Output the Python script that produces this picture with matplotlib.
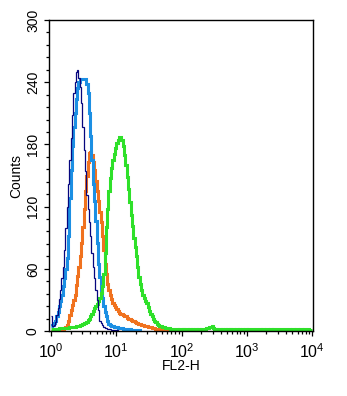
import numpy as np
import matplotlib
matplotlib.use("Agg")
import matplotlib.pyplot as plt
from matplotlib.ticker import MultipleLocator, LogLocator, NullFormatter

plt.rcParams['font.family'] = ['Liberation Sans', 'DejaVu Sans']
plt.rcParams['mathtext.fontset'] = 'custom'
plt.rcParams['mathtext.rm'] = 'Liberation Sans'
plt.rcParams['mathtext.it'] = 'Liberation Sans'

# channel width in decades: channels start at 10^0, 50 channels per decade
decade_step = 0.02

# counts per channel (channels beyond the end of a list are empty)
navy_counts = [14, 5, 6, 9, 15, 22, 31, 40, 51, 62,
               78, 99, 120, 142, 165, 186, 208, 230, 240, 250,
               252, 244, 235, 220, 197, 175, 154, 131, 118, 105,
               92, 75, 62, 51, 40, 30, 20, 10, 8, 6,
               4, 3, 3, 2, 2, 2, 1, 1, 1, 1,
               1, 0]

blue_counts = [5, 6, 8, 10, 14, 18, 24, 29, 35, 43,
               51, 60, 70, 92, 128, 155, 178, 197, 210, 224,
               234, 240, 243, 243, 243, 243, 243, 238, 230, 210,
               188, 165, 142, 125, 106, 85, 65, 52, 40, 32,
               24, 18, 14, 10, 7, 6, 5, 5, 4, 4,
               4, 3, 3, 3, 3, 2, 2, 2, 2, 2,
               2, 1, 1, 1, 1, 1, 1, 1, 0]

orange_counts = [0, 0, 0, 0, 1, 1, 1, 1, 2, 2,
                 3, 4, 6, 10, 15, 20, 25, 30, 35, 44,
                 53, 62, 72, 85, 100, 118, 135, 150, 163, 172,
                 173, 170, 163, 155, 145, 135, 125, 115, 105, 92,
                 78, 65, 55, 45, 40, 35, 31, 27, 25, 23,
                 21, 19, 17, 16, 16, 15, 14, 14, 13, 12,
                 12, 11, 10, 10, 9, 8, 8, 7, 7, 6,
                 6, 5, 5, 5, 4, 4, 4, 3, 3, 3,
                 2, 2, 2, 2, 1, 1, 1, 1, 1, 1,
                 1, 0]

green_counts = [2, 2, 2, 2, 2, 2, 3, 3, 3, 3,
                3, 3, 3, 3, 4, 4, 4, 4, 4, 5,
                5, 5, 6, 6, 7, 8, 8, 9, 11, 12,
                14, 16, 19, 22, 24, 26, 29, 32, 37, 43,
                55, 75, 100, 118, 135, 148, 157, 165, 171, 177,
                181, 184, 187, 187, 184, 178, 170, 160, 149, 137,
                124, 112, 101, 90, 81, 72, 62, 52, 45, 40,
                35, 32, 29, 27, 23, 19, 16, 14, 12, 10,
                9, 7, 6, 5, 5, 4, 4, 3, 3, 3,
                3, 2, 2, 2, 2, 2,
                2, 1, 2, 2, 1, 2, 1, 2, 2, 1,
                2, 1, 2, 1, 2, 2, 1, 2, 1, 2,
                2, 2, 2, 3, 3, 4, 4, 5, 3, 2,
                2, 1, 2, 2, 1, 2, 1, 2, 1, 2,
                1, 2, 1, 2, 1, 1, 2, 1, 2, 1,
                2, 1, 1, 2, 1, 2, 1, 1, 2, 1,
                1, 2, 1, 1, 2, 1, 2, 1, 1, 2,
                1, 1, 2, 1, 2, 1, 1, 2, 1, 1,
                2, 1, 1, 2, 1, 1, 2, 1, 1, 2,
                1, 1, 2, 1, 1, 2, 1, 1, 2, 1,
                1, 2, 1, 1]

series = [
    (orange_counts, "#f0721f", 2.2),
    (blue_counts, "#1c8fe3", 2.2),
    (green_counts, "#2fe02a", 2.2),
    (navy_counts, "#06067e", 0.9),
]

x_ticks = [1, 10, 100, 1000, 10000]
y_ticks = [0, 60, 120, 180, 240, 300]

fig = plt.figure(figsize=(3.47, 3.96), dpi=100)
ax = fig.add_axes([49/347, 1-331/396, (313-49)/347, (331-20)/396])

for counts, color, lw in series:
    edges = 10.0 ** (np.arange(len(counts) + 1) * decade_step)
    ax.stairs(counts, edges, color=color, linewidth=lw, baseline=None)

ax.set_xscale('log')
ax.set_xlim(10**-0.031, 10**4.015)
ax.set_ylim(0, 300)
ax.set_xticks(x_ticks)
ax.xaxis.set_minor_locator(LogLocator(base=10, subs=np.arange(2, 10)))
ax.xaxis.set_minor_formatter(NullFormatter())
ax.set_yticks(y_ticks)
ax.yaxis.set_minor_locator(MultipleLocator(12))

for s in ax.spines.values():
    s.set_linewidth(1.0)

ax.tick_params(axis='both', which='major', length=3.5, width=0.9, direction='out')
ax.tick_params(axis='both', which='minor', length=2.2, width=0.9, direction='out')
ax.tick_params(axis='y', labelrotation=90, pad=3, labelsize=10)
ax.tick_params(axis='x', pad=4.5, labelsize=11.5)
for lbl in ax.get_yticklabels():
    lbl.set_va('center')

ax.set_xlabel('FL2-H', fontsize=10, labelpad=-1)
ax.set_ylabel('Counts', fontsize=10, labelpad=2)

fig.savefig('out.png', dpi=100, facecolor='white')
